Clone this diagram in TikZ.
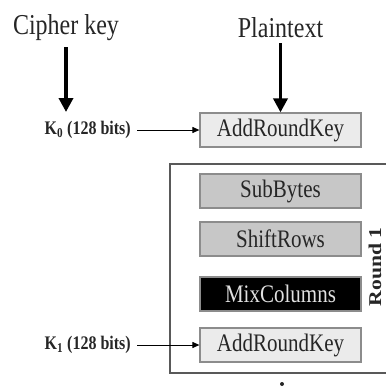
\documentclass[tikz,border=0pt]{standalone}
\usepackage{fontspec}
\setmainfont{Liberation Serif}
\usetikzlibrary{arrows.meta}
\newcommand\vst[1]{\scalebox{1}[1.2]{#1}}
\tikzset{
  opbox/.style={draw=black!45, line width=1.2pt, minimum width=161pt, minimum height=34pt,
    inner sep=0pt, font=\fontsize{21}{21}\selectfont, text=black!85},
  lightop/.style={opbox, fill=black!8},
  midop/.style={opbox, fill=black!22},
  darkop/.style={opbox, fill=black, text=black!12},
  title/.style={font=\fontsize{24}{24}\selectfont, text=black!85, inner sep=0pt},
  keylbl/.style={font=\bfseries\fontsize{16}{16}\selectfont, text=black!85, inner sep=0pt},
  bigarrow/.style={line width=3.5pt, -{Triangle[width=14pt,length=14pt]}},
  smallarrow/.style={line width=1pt, -{Triangle[width=6pt,length=7pt]}},
  roundbox/.style={draw=black!65, line width=1.6pt}
}
\begin{document}
\begin{tikzpicture}[x=1pt,y=-1pt]
\useasboundingbox (0,0) rectangle (386,392);
\clip (0,0) rectangle (386,392);
% titles
\node[title] (ck) at (66,28) {\vst{Cipher key}};
\node[title] (pt) at (280.5,28) {\vst{Plaintext}};
% round frame (its right side runs past the picture's edge)
\coordinate (rtr) at (500,164);
\coordinate (rtl) at (170,164);
\coordinate (rbl) at (170,373);
\coordinate (rbr) at (500,373);
\draw[roundbox] (rtr) -- (rtl) -- (rbl) -- (rbr);
% operation boxes
\node[lightop] (ark0) at (280.5,130) {\vst{AddRoundKey}};
\node[midop] (sb) at (280.5,191) {\vst{SubBytes}};
\node[midop] (sr) at (280.5,239) {\vst{ShiftRows}};
\node[darkop] (mc) at (280.5,294) {\vst{MixColumns}};
\node[lightop] (ark1) at (280.5,345) {\vst{AddRoundKey}};
% round label
\node[rotate=90, font=\bfseries\fontsize{18}{18}\selectfont, text=black!85, inner sep=0pt] (rl) at (375,267) {\scalebox{1.2}[1]{Round 1}};
% key labels
\node[keylbl, anchor=east] (k0) at (131,130) {\vst{K\textsubscript{0} (128 bits)}};
\node[keylbl, anchor=east] (k1) at (131,345) {\vst{K\textsubscript{1} (128 bits)}};
% arrows
\coordinate (ckstart) at (66,47);
\coordinate (ckend) at (66,112);
\draw[bigarrow] (ckstart) -- (ckend);
\draw[bigarrow] (pt.south) ++(0,5) -- (ark0.north);
\draw[smallarrow] (k0.east) ++(6,0) -- (ark0.west);
\draw[smallarrow] (k1.east) ++(6,0) -- (ark1.west);
% continuation dot
\fill[black!85] (282,384) circle (2pt) coordinate (dot);
\end{tikzpicture}
\end{document}
